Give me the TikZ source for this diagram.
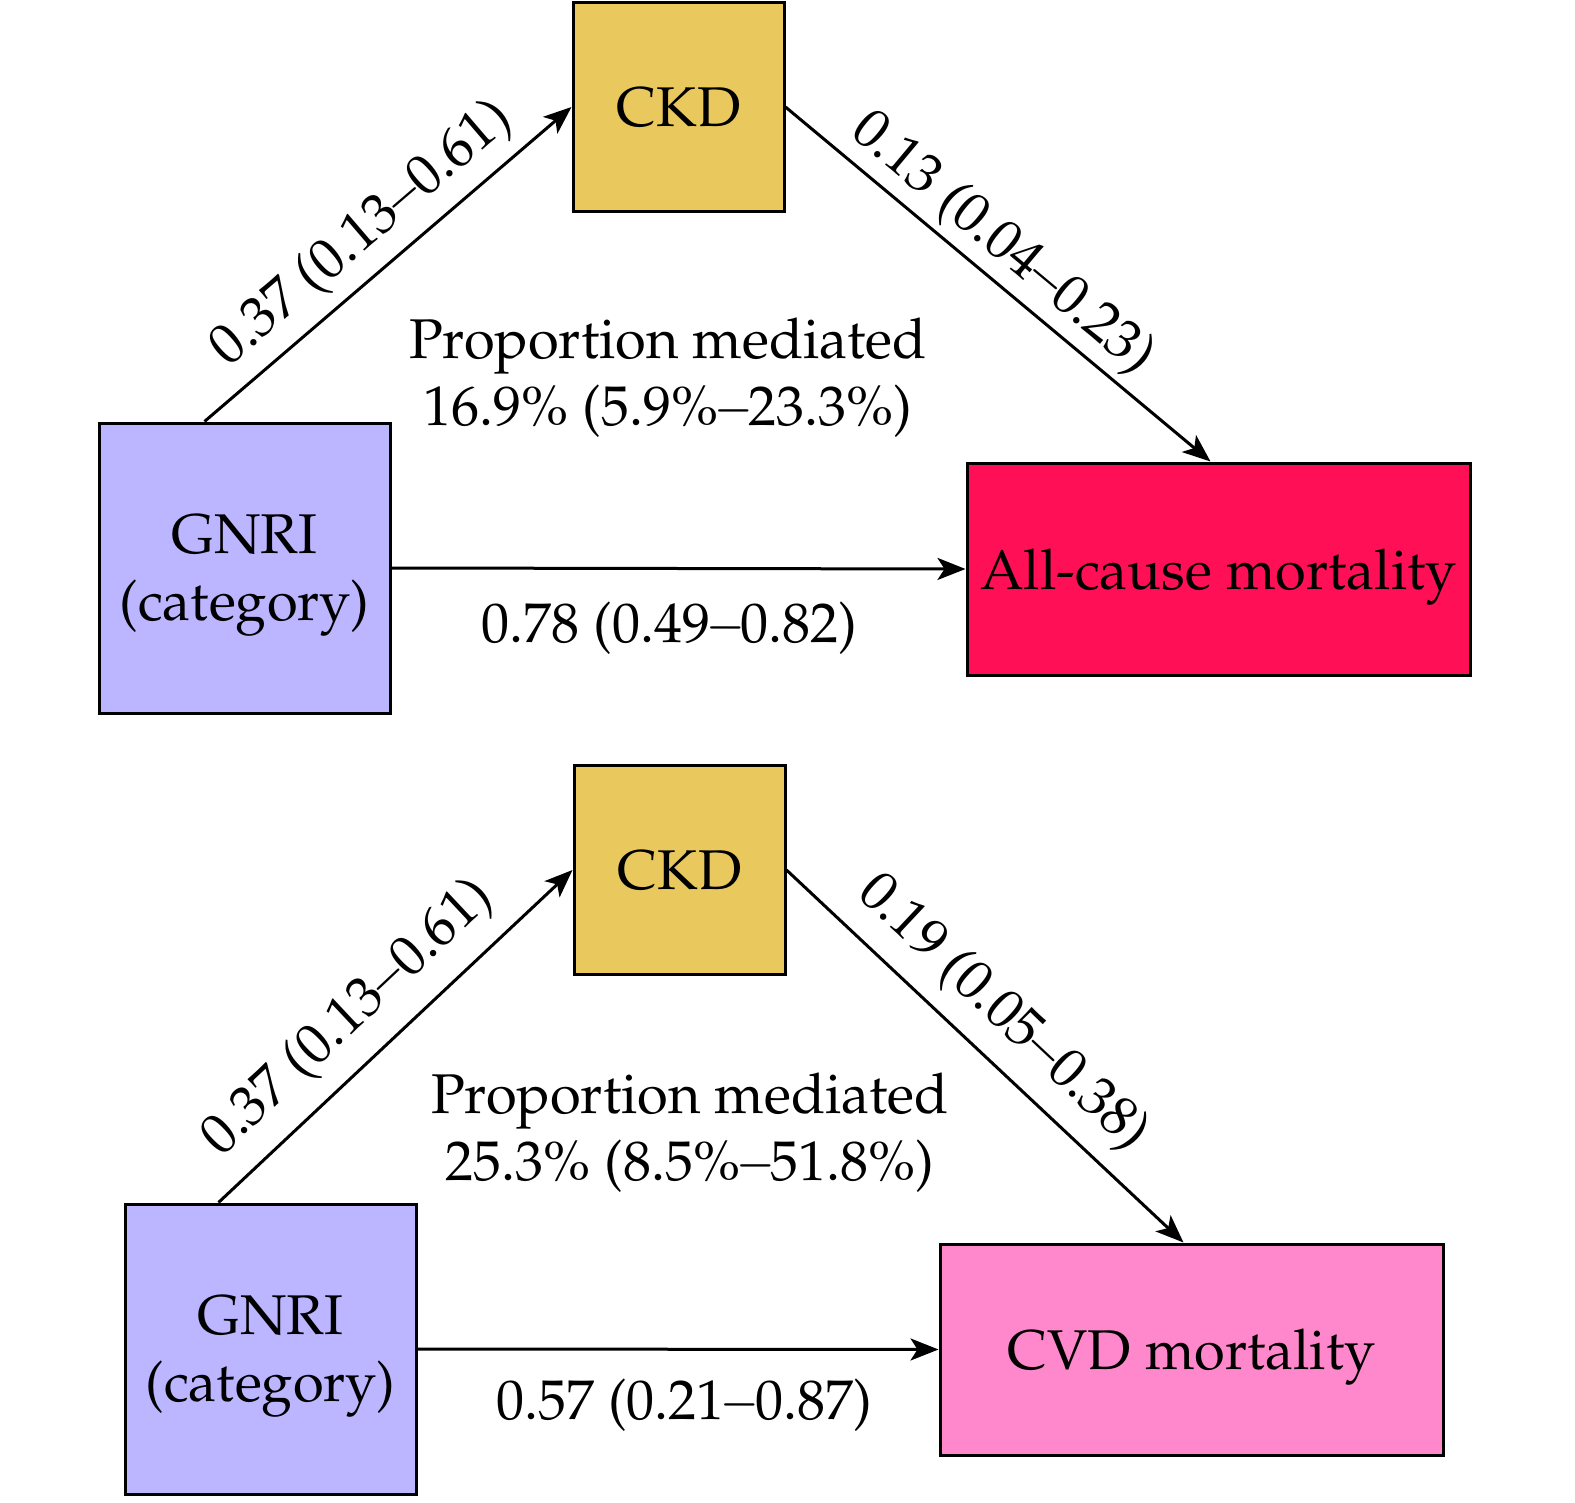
\documentclass[tikz,border=0pt]{standalone}
\usepackage[T1]{fontenc}
\usepackage{mathpazo}
\usepackage{graphicx}
\usetikzlibrary{arrows.meta}
\definecolor{ckdc}{HTML}{E9C95E}
\definecolor{gnric}{HTML}{BCB5FF}
\definecolor{acmc}{HTML}{FF1056}
\definecolor{cvdc}{HTML}{FF88CC}
\newcommand\mnus{\ensuremath{\mkern-1.5mu}\scalebox{0.85}[1]{$-$}\ensuremath{\mkern-1.5mu}}
\begin{document}
\begin{tikzpicture}[x=0.5pt,y=-0.5pt,
  every node/.style={font=\fontsize{28}{33.5}\selectfont},
  box/.style={draw,line width=1.5pt,inner sep=0pt,align=center,text depth=0pt},
  arr/.style={line width=1.5pt,-{Stealth[length=14pt,width=11pt,inset=3.5pt]}},
  lab/.style={sloped,inner sep=0pt}]
\useasboundingbox (0,0) rectangle (1575,1503);
% top diagram
\node[box,fill=ckdc,minimum width=105.5pt,minimum height=104.5pt] (c1) at (678.5,107) {CKD};
\node[box,fill=gnric,minimum width=145.5pt,minimum height=145pt] (g1) at (244.5,568) {GNRI\\(category)};
\node[box,fill=acmc,minimum width=251.5pt,minimum height=106pt] (a1) at (1218.5,569) {All-cause mortality};
\draw[arr] ([xshift=-20pt]g1.north) -- node[lab,pos=0.5,above=6pt]{0.37 (0.13\mnus0.61)} (c1.west);
\draw[arr] (c1.east) -- node[lab,pos=0.46,above=3pt]{0.13 (0.04\mnus0.23)} ([xshift=-4pt]a1.north);
\draw[arr] (g1.east) -- node[lab,midway,below=16pt,xshift=-4.5pt]{0.78 (0.49\mnus0.82)} (a1.west);
\node[align=center] (p1) at (668,378) {Proportion mediated\\16.9\% (5.9\%\mnus23.3\%)};
% bottom diagram
\node[box,fill=ckdc,minimum width=105.5pt,minimum height=104.5pt] (c2) at (679.5,870) {CKD};
\node[box,fill=gnric,minimum width=145.5pt,minimum height=145pt] (g2) at (270.5,1349) {GNRI\\(category)};
\node[box,fill=cvdc,minimum width=251.5pt,minimum height=105.5pt] (a2) at (1191.5,1349.5) {CVD mortality};
\draw[arr] ([xshift=-26pt]g2.north) -- node[lab,pos=0.455,above=9pt]{0.37 (0.13\mnus0.61)} (c2.west);
\draw[arr] (c2.east) -- node[lab,pos=0.47,above=8pt]{0.19 (0.05\mnus0.38)} ([xshift=-4pt]a2.north);
\draw[arr] (g2.east) -- node[lab,midway,below=14pt,xshift=3pt]{0.57 (0.21\mnus0.87)} (a2.west);
\node[align=center] (p2) at (690,1133) {Proportion mediated\\25.3\% (8.5\%\mnus51.8\%)};
\end{tikzpicture}
\end{document}
